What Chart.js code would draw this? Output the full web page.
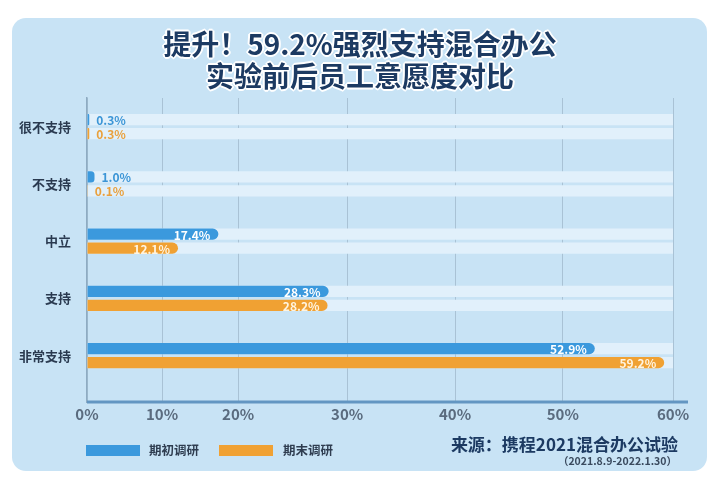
<!DOCTYPE html>
<html>
<head>
<meta charset="utf-8">
<script src="https://cdn.jsdelivr.net/npm/chart.js@4.4.1/dist/chart.umd.min.js"></script>
<style>
  body { margin: 0; background: #fff; font-family: "Noto Sans CJK SC", "Noto Sans", sans-serif; }
  #wrap { position: relative; width: 720px; height: 486px; overflow: hidden; }
  .card { position: absolute; left: 12px; top: 18px; width: 695px; height: 453px; border-radius: 14px; background: #c8e3f5; }
  #chart { position: absolute; left: 0; top: 0; }
  .title { position: absolute; left: 0; width: 720px; top: 27px; text-align: center; font-size: 28px; line-height: 32px; font-weight: 700; color: #1c3a62;
    text-shadow: 0 0 2px #fff, 1px 1px 0 #fff, -1px -1px 0 #fff, 1px -1px 0 #fff, -1px 1px 0 #fff, 0 2px 0 #fff, 0 -2px 0 #fff, 2px 0 0 #fff, -2px 0 0 #fff; }
  .sw { position: absolute; top: 445px; width: 54px; height: 11px; }
  .lg { position: absolute; top: 441px; font-size: 12.5px; line-height: 18px; font-weight: 700; color: #2f3d50; }
  .src { position: absolute; right: 42px; top: 433px; font-size: 17px; line-height: 22px; font-weight: 700; color: #1c3a62; }
  .date { position: absolute; right: 43px; top: 454px; font-size: 10.5px; line-height: 14px; font-weight: 700; color: #3a4a5e; }
</style>
</head>
<body>
<div id="wrap">
  <div class="card"></div>
  <canvas id="chart" width="720" height="486"></canvas>
  <div class="title">提升！59.2%强烈支持混合办公<br>实验前后员工意愿度对比</div>
  <div class="sw" style="left:86px;background:#3b99dd"></div>
  <div class="lg" style="left:149px">期初调研</div>
  <div class="sw" style="left:219px;background:#f0a133"></div>
  <div class="lg" style="left:283px">期末调研</div>
  <div class="src">来源：携程2021混合办公试验</div>
  <div class="date">（2021.8.9-2022.1.30）</div>
</div>
<script>
const categories = ['很不支持', '不支持', '中立', '支持', '非常支持'];
const initialSurvey = [0.3, 1.0, 17.4, 28.3, 52.9];
const finalSurvey = [0.3, 0.1, 12.1, 28.2, 59.2];
const xTicks = [0, 10, 20, 30, 40, 50, 60];
const trackMax = 60;

// the picture's x axis is not evenly spaced: first two steps are narrower
const X_FRACS = [0, 0.128, 0.258, 0.444, 0.628, 0.812, 1];
const Y_SPAN = 5.31;

class PiecewiseScale extends Chart.LinearScale {
    getPixelForValue(value) {
        if (value === null || value === undefined || isNaN(value)) return NaN;
        let i = 1;
        while (i < xTicks.length - 1 && value > xTicks[i]) i++;
        const t = (value - xTicks[i - 1]) / (xTicks[i] - xTicks[i - 1]);
        return this.getPixelForDecimal(X_FRACS[i - 1] + t * (X_FRACS[i] - X_FRACS[i - 1]));
    }
}
PiecewiseScale.id = 'piecewise';
PiecewiseScale.defaults = Chart.LinearScale.defaults;
Chart.register(PiecewiseScale);

Chart.defaults.font.family = '"Noto Sans CJK SC", "Noto Sans", sans-serif';

const BLUE = '#3b99dd';
const ORANGE = '#f0a133';
const TRACK = '#e1f0fb';

const barLabels = {
    id: 'barLabels',
    afterDatasetsDraw(chart) {
        const ctx = chart.ctx;
        const area = chart.chartArea;
        // thick bottom axis line, runs a little past the 60% line
        ctx.save();
        ctx.strokeStyle = '#6396c2';
        ctx.lineWidth = 3;
        ctx.beginPath();
        ctx.moveTo(area.left, area.bottom);
        ctx.lineTo(area.right + 15, area.bottom);
        ctx.stroke();
        ctx.restore();

        [0, 1].forEach(di => {
            const ds = chart.data.datasets[di];
            chart.getDatasetMeta(di).data.forEach((bar, i) => {
                const text = ds.data[i].toFixed(1) + '%';
                ctx.save();
                ctx.font = 'bold 12px "Noto Sans CJK SC", "Noto Sans", sans-serif';
                ctx.textBaseline = 'middle';
                if (bar.x - bar.base > 30) {
                    ctx.textAlign = 'right';
                    ctx.fillStyle = ds.innerLabel;
                    ctx.fillText(text, bar.x - 8, bar.y + 1);
                } else {
                    ctx.textAlign = 'left';
                    ctx.fillStyle = ds.outerLabel;
                    ctx.fillText(text, bar.x + 7, bar.y + 1);
                }
                ctx.restore();
            });
        });
    }
};

const barCommon = { categoryPercentage: 0.49, barPercentage: 0.8, borderSkipped: 'start' };

new Chart(document.getElementById('chart'), {
    type: 'bar',
    data: {
        labels: categories,
        datasets: [
            Object.assign({ label: '期初调研', data: initialSurvey, backgroundColor: BLUE, borderRadius: 6, stack: 'a',
                innerLabel: '#ffffff', outerLabel: '#3b95d6' }, barCommon),
            Object.assign({ label: '期末调研', data: finalSurvey, backgroundColor: ORANGE, borderRadius: 6, stack: 'b',
                innerLabel: '#fff4e0', outerLabel: '#e9a03c' }, barCommon),
            Object.assign({ label: 'track1', data: categories.map(() => trackMax), backgroundColor: TRACK, stack: 'a' }, barCommon),
            Object.assign({ label: 'track2', data: categories.map(() => trackMax), backgroundColor: TRACK, stack: 'b' }, barCommon)
        ]
    },
    options: {
        indexAxis: 'y',
        responsive: false,
        animation: false,
        events: [],
        layout: { padding: { top: 98, right: 47, left: 0, bottom: 0 } },
        plugins: {
            legend: { display: false },
            tooltip: { enabled: false }
        },
        scales: {
            x: {
                type: 'piecewise',
                stacked: false,
                min: 0,
                max: trackMax,
                afterBuildTicks: s => { s.ticks = xTicks.map(v => ({ value: v })); },
                afterFit: s => { s.height = 84; },
                ticks: {
                    callback: v => v + '%',
                    color: '#5a6b7e',
                    font: { size: 15, weight: 'bold' },
                    padding: 3,
                    autoSkip: false,
                    maxRotation: 0
                },
                grid: { color: '#a9c2d5', lineWidth: 1, drawTicks: false },
                border: { display: false }
            },
            y: {
                type: 'category',
                afterBuildTicks: s => { s._valueRange = Y_SPAN; },
                afterFit: s => { s.width = 87; },
                grid: { display: false },
                border: { display: true, color: '#8eabc2', width: 1.5 },
                ticks: { color: '#2a3a50', font: { size: 13, weight: 'bold' }, padding: 8 }
            }
        }
    },
    plugins: [barLabels]
});
</script>
</body>
</html>
